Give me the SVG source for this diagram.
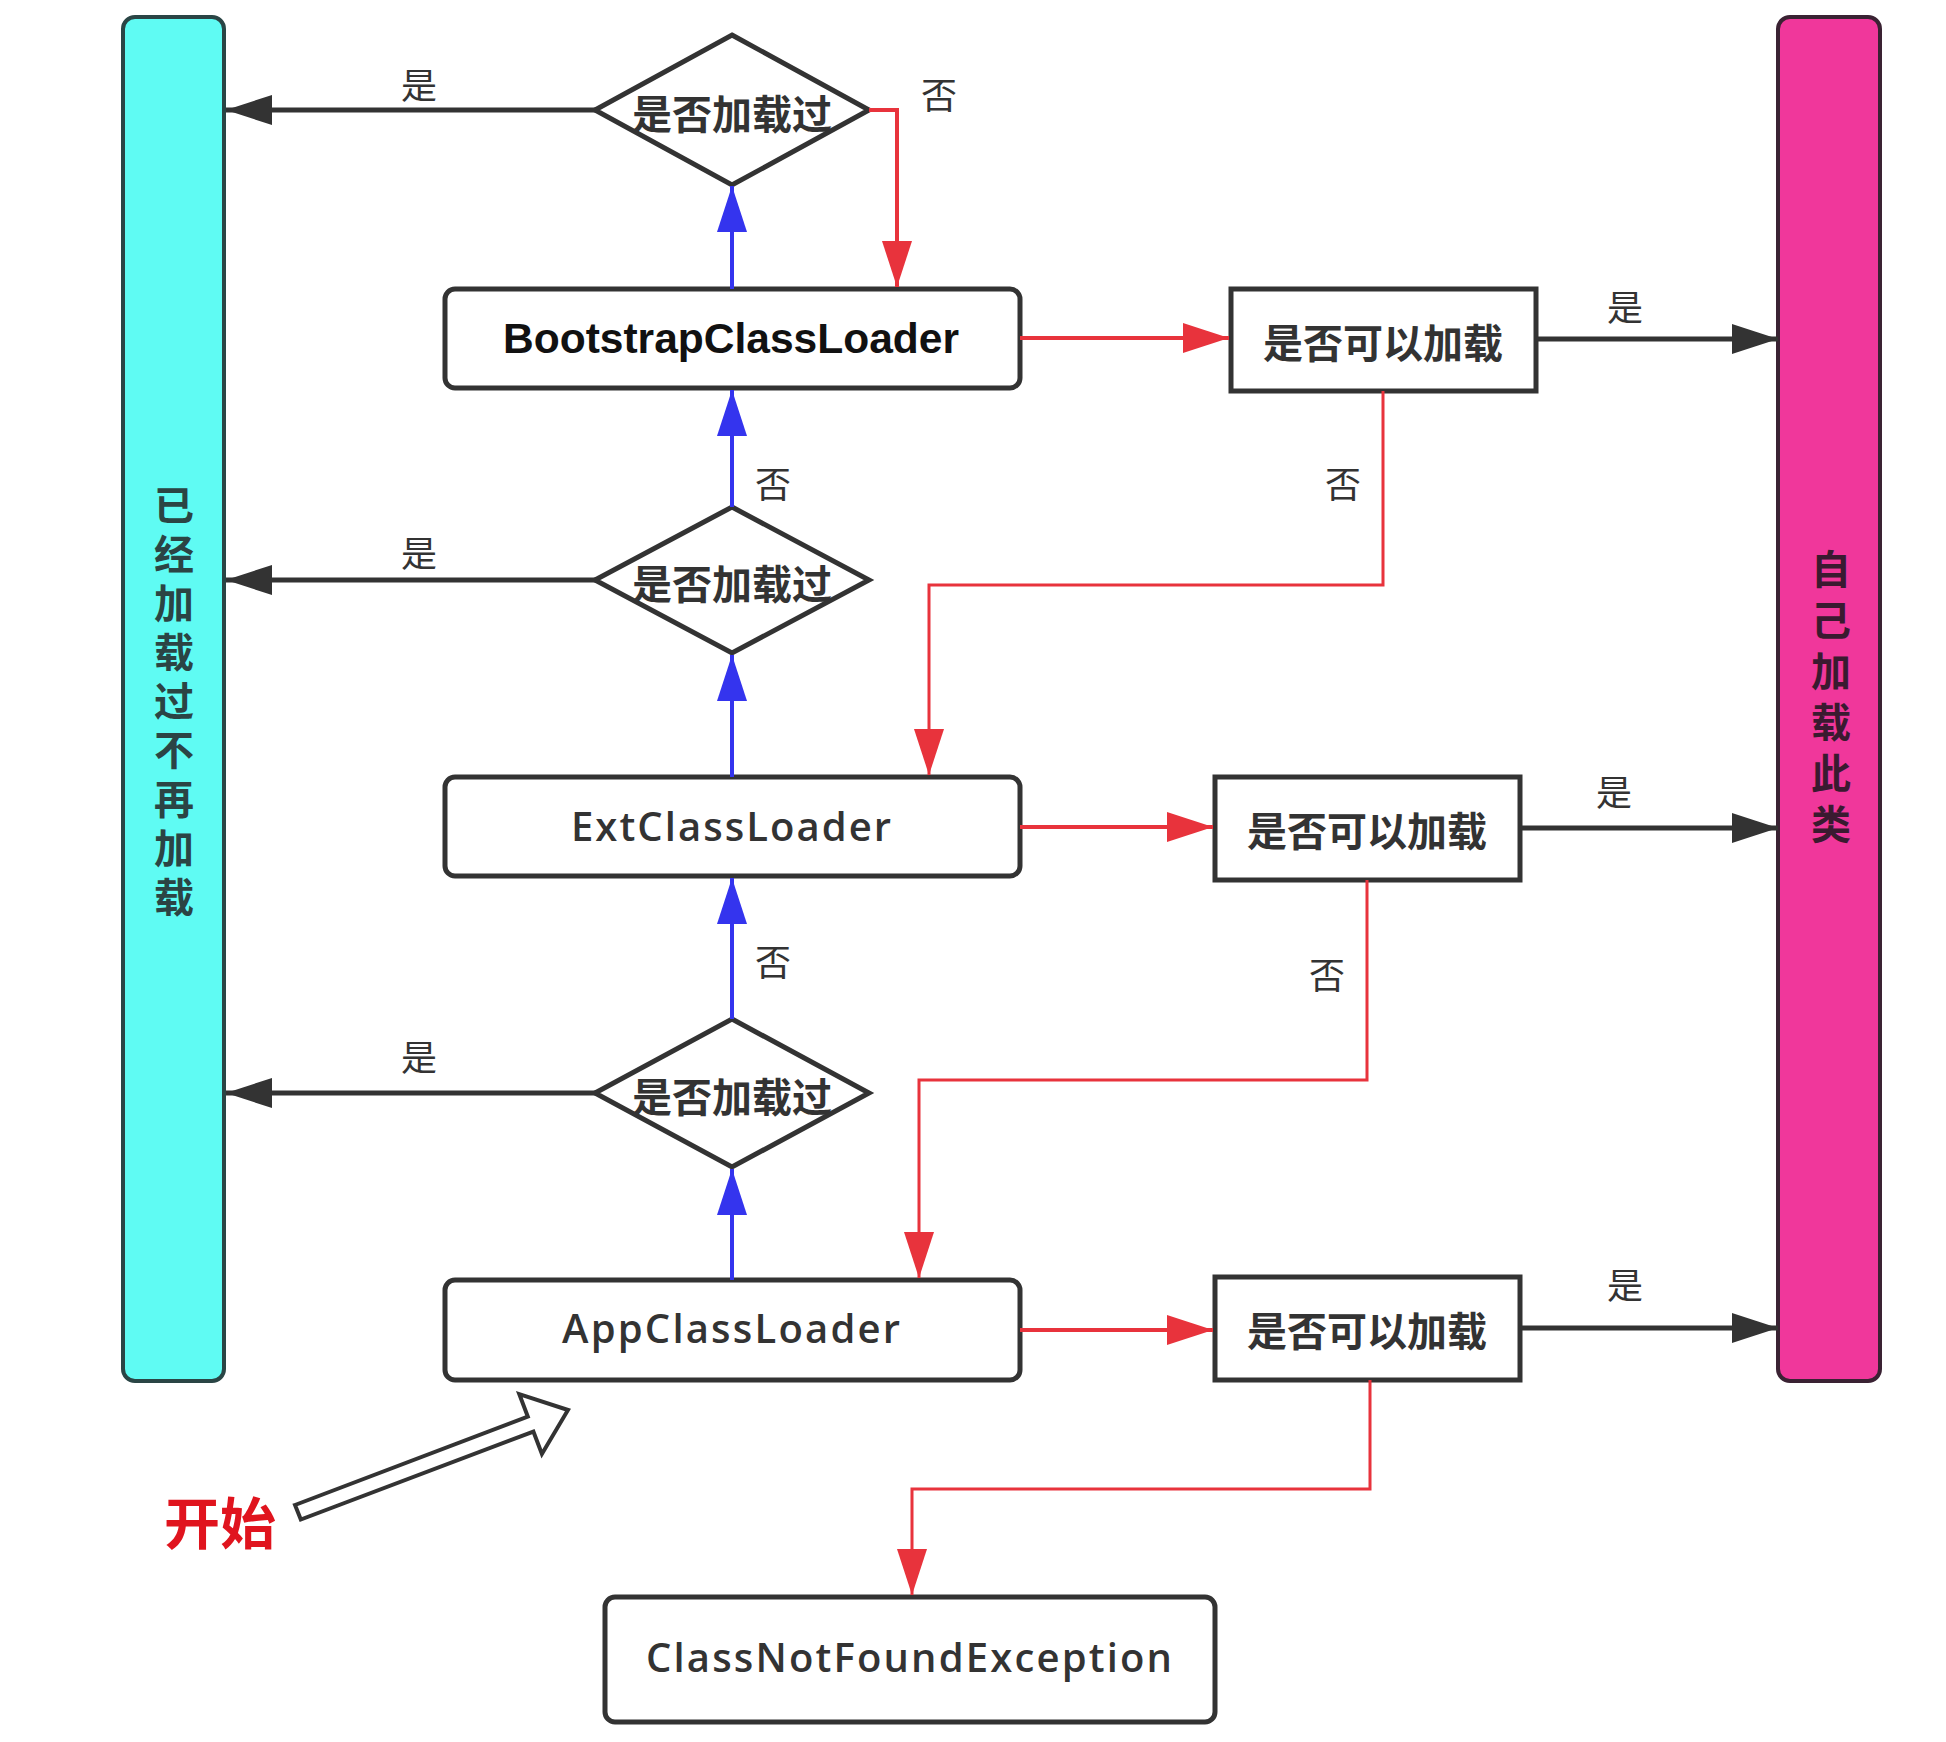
<svg xmlns="http://www.w3.org/2000/svg" width="1946" height="1742" viewBox="0 0 1946 1742">
<defs>
<style>
.box{fill:#fff;stroke:#333;stroke-width:5}
.cjk{font-family:"Noto Sans CJK SC","Noto Sans",sans-serif;fill:#333;text-anchor:middle;dominant-baseline:central}
.b{font-weight:bold}
.lbl{font-size:36px}
.vert{font-family:"Noto Sans CJK SC","Noto Sans",sans-serif;font-weight:bold;font-size:40px;writing-mode:vertical-rl;text-anchor:start}
.lat{font-family:"Open Sans","Liberation Sans",sans-serif;font-weight:600;font-size:40px;fill:#333;text-anchor:middle}
.k{fill:none;stroke:#333;stroke-width:5}
.r{fill:none;stroke:#e8333c;stroke-width:4}
.r3{fill:none;stroke:#e8333c;stroke-width:3}
.u{fill:none;stroke:#3434ee;stroke-width:4}
</style>
<marker id="ak" viewBox="0 0 46 30" refX="46" refY="15" markerWidth="46" markerHeight="30" markerUnits="userSpaceOnUse" orient="auto"><path d="M0,0 L46,15 L0,30 z" fill="#333"/></marker>
<marker id="ar" viewBox="0 0 46 30" refX="46" refY="15" markerWidth="46" markerHeight="30" markerUnits="userSpaceOnUse" orient="auto"><path d="M0,0 L46,15 L0,30 z" fill="#e8333c"/></marker>
<marker id="au" viewBox="0 0 46 30" refX="46" refY="15" markerWidth="46" markerHeight="30" markerUnits="userSpaceOnUse" orient="auto"><path d="M0,0 L46,15 L0,30 z" fill="#3434ee"/></marker>
</defs>
<rect width="1946" height="1742" fill="#fff"/>

<g id="loaded-bar">
<rect x="123" y="17" width="101" height="1364" rx="12" fill="#5ffbf3" stroke="#2a4545" stroke-width="4"/>
<text class="vert" x="174" y="485" style="fill:#2b4444;letter-spacing:9px">已经加载过不再加载</text>
</g>

<g id="self-bar">
<rect x="1778" y="17" width="102" height="1364" rx="12" fill="#f0379b" stroke="#3a2233" stroke-width="4"/>
<text class="vert" x="1831" y="549" style="fill:#3a1a30;letter-spacing:11px">自己加载此类</text>
</g>

<g id="diamond1">
<polygon class="box" points="732,35 869,110 732,185 595,110"/>
<text class="cjk b" x="732" y="112" style="font-size:40px">是否加载过</text>
</g>
<g id="diamond2">
<polygon class="box" points="732,507 869,580 732,653 595,580"/>
<text class="cjk b" x="732" y="582" style="font-size:40px">是否加载过</text>
</g>
<g id="diamond3">
<polygon class="box" points="732,1019 869,1093 732,1167 595,1093"/>
<text class="cjk b" x="732" y="1095" style="font-size:40px">是否加载过</text>
</g>

<g id="bootstrap">
<rect class="box" x="445" y="289" width="575" height="99" rx="10"/>
<text x="731" y="353" text-anchor="middle" style="font-family:'Liberation Sans',Arial,sans-serif;font-weight:bold;font-size:42px;fill:#111" textLength="456" lengthAdjust="spacingAndGlyphs">BootstrapClassLoader</text>
</g>
<g id="ext">
<rect class="box" x="445" y="777" width="575" height="99" rx="10"/>
<text class="lat" x="731" y="841" textLength="320" lengthAdjust="spacing">ExtClassLoader</text>
</g>
<g id="app">
<rect class="box" x="445" y="1280" width="575" height="100" rx="10"/>
<text class="lat" x="731" y="1343" textLength="338" lengthAdjust="spacing">AppClassLoader</text>
</g>
<g id="cnf">
<rect class="box" x="605" y="1597" width="610" height="125" rx="10"/>
<text class="lat" x="909" y="1672" textLength="526" lengthAdjust="spacing">ClassNotFoundException</text>
</g>

<g id="canload1">
<rect class="box" x="1231" y="289" width="305" height="102"/>
<text class="cjk b" x="1383" y="341" style="font-size:40px">是否可以加载</text>
</g>
<g id="canload2">
<rect class="box" x="1215" y="777" width="305" height="103"/>
<text class="cjk b" x="1367" y="829" style="font-size:40px">是否可以加载</text>
</g>
<g id="canload3">
<rect class="box" x="1215" y="1277" width="305" height="103"/>
<text class="cjk b" x="1367" y="1329" style="font-size:40px">是否可以加载</text>
</g>

<g id="start">
<text x="220" y="1519" text-anchor="middle" dominant-baseline="central" style="font-family:'Noto Sans CJK SC',sans-serif;font-weight:bold;font-size:56px;fill:#e0141e">开始</text>
<polygon points="295,1505 527.8,1416.6 519.3,1394.2 568,1410 541.9,1454 533.4,1431.6 300.8,1519.5" fill="#fff" stroke="#333" stroke-width="4" stroke-linejoin="miter"/>
</g>

<g id="connectors">
<line class="k" x1="596" y1="110" x2="226" y2="110" marker-end="url(#ak)"/>
<line class="k" x1="596" y1="580" x2="226" y2="580" marker-end="url(#ak)"/>
<line class="k" x1="596" y1="1093" x2="226" y2="1093" marker-end="url(#ak)"/>
<line class="k" x1="1536" y1="339" x2="1778" y2="339" marker-end="url(#ak)"/>
<line class="k" x1="1520" y1="828" x2="1778" y2="828" marker-end="url(#ak)"/>
<line class="k" x1="1520" y1="1328" x2="1778" y2="1328" marker-end="url(#ak)"/>

<line class="u" x1="732" y1="289" x2="732" y2="186" marker-end="url(#au)"/>
<line class="u" x1="732" y1="507" x2="732" y2="390" marker-end="url(#au)"/>
<line class="u" x1="732" y1="777" x2="732" y2="655" marker-end="url(#au)"/>
<line class="u" x1="732" y1="1019" x2="732" y2="878" marker-end="url(#au)"/>
<line class="u" x1="732" y1="1280" x2="732" y2="1169" marker-end="url(#au)"/>

<line class="r" x1="1020" y1="338" x2="1229" y2="338" marker-end="url(#ar)"/>
<line class="r" x1="1020" y1="827" x2="1213" y2="827" marker-end="url(#ar)"/>
<line class="r" x1="1020" y1="1330" x2="1213" y2="1330" marker-end="url(#ar)"/>

<polyline class="r" points="869,110 897,110 897,287" marker-end="url(#ar)"/>
<polyline class="r3" points="1383,391 1383,585 929,585 929,775" marker-end="url(#ar)"/>
<polyline class="r3" points="1367,880 1367,1080 919,1080 919,1278" marker-end="url(#ar)"/>
<polyline class="r3" points="1370,1380 1370,1489 912,1489 912,1595" marker-end="url(#ar)"/>
</g>

<g id="labels">
<text class="cjk lbl" x="419" y="83">是</text>
<text class="cjk lbl" x="939" y="93">否</text>
<text class="cjk lbl" x="773" y="482">否</text>
<text class="cjk lbl" x="419" y="551">是</text>
<text class="cjk lbl" x="1343" y="482">否</text>
<text class="cjk lbl" x="1625" y="305">是</text>
<text class="cjk lbl" x="773" y="960">否</text>
<text class="cjk lbl" x="1614" y="790">是</text>
<text class="cjk lbl" x="419" y="1055">是</text>
<text class="cjk lbl" x="1327" y="973">否</text>
<text class="cjk lbl" x="1625" y="1283">是</text>
</g>
</svg>
